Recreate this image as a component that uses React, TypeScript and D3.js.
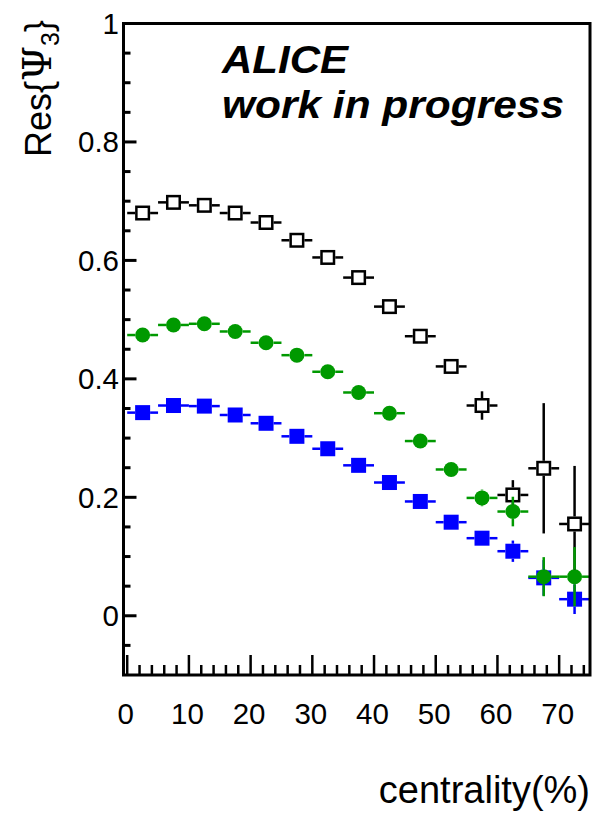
import React from "react";
import * as d3 from "d3";

// Centrality bin centres (%), each bin is 5% wide
const centrality = [2.5, 7.5, 12.5, 17.5, 22.5, 27.5, 32.5, 37.5, 42.5, 47.5, 52.5, 57.5, 62.5, 67.5, 72.5];
const binHalfWidth = 2.5;

// Event-plane resolution Res{Psi_3} for the three detectors
const resOpen = [0.680, 0.698, 0.693, 0.680, 0.664, 0.634, 0.605, 0.571, 0.522, 0.472, 0.421, 0.355, 0.204, 0.249, 0.155];
const errOpen = [0.004, 0.004, 0.004, 0.004, 0.004, 0.004, 0.005, 0.005, 0.006, 0.007, 0.008, 0.024, 0.025, 0.11, 0.098];

const resGreen = [0.474, 0.491, 0.493, 0.480, 0.461, 0.440, 0.412, 0.377, 0.342, 0.295, 0.247, 0.199, 0.176, 0.066, 0.066];
const errGreen = [0.003, 0.003, 0.003, 0.003, 0.003, 0.003, 0.004, 0.004, 0.005, 0.006, 0.008, 0.014, 0.025, 0.033, 0.05];

const resBlue = [0.343, 0.355, 0.354, 0.339, 0.325, 0.303, 0.282, 0.254, 0.225, 0.193, 0.158, 0.131, 0.109, 0.064, 0.028];
const errBlue = [0.003, 0.003, 0.003, 0.003, 0.003, 0.003, 0.003, 0.004, 0.004, 0.005, 0.006, 0.008, 0.018, 0.03, 0.025];

const xMajorTicks = [0, 10, 20, 30, 40, 50, 60, 70];
const yMajorTicks = [0, 0.2, 0.4, 0.6, 0.8, 1];

const W = 601;
const H = 820;
const left = 123.5;
const right = 590;
const top = 23.5;
const bottom = 675;

const x = d3.scaleLinear().domain([-0.6, 75]).range([left, right]);
const y = d3.scaleLinear().domain([-0.1, 1]).range([bottom, top]);

const FONT = "'Liberation Sans', Arial, Helvetica, sans-serif";
const HALF = 7.5; // marker half size in px
const LW = 2.5;

type SeriesProps = {
  values: number[];
  errors: number[];
  color: string;
  marker: "openSquare" | "square" | "circle";
};

function Series({ values, errors, color, marker }: SeriesProps) {
  return (
    <g>
      {centrality.map((c, i) => {
        const cx = x(c);
        const cy = y(values[i]);
        const x0 = x(c - binHalfWidth);
        const x1 = x(c + binHalfWidth);
        const yHi = y(values[i] + errors[i]);
        const yLo = y(values[i] - errors[i]);
        const segs: [number, number, number, number][] = [];
        if (x0 < cx - HALF) segs.push([x0, cy, cx - HALF, cy]);
        if (x1 > cx + HALF) segs.push([cx + HALF, cy, x1, cy]);
        if (yHi < cy - HALF) segs.push([cx, yHi, cx, cy - HALF]);
        if (yLo > cy + HALF) segs.push([cx, cy + HALF, cx, yLo]);
        return (
          <g key={i}>
            {segs.map((s, j) => (
              <line key={j} x1={s[0]} y1={s[1]} x2={s[2]} y2={s[3]} stroke={color} strokeWidth={LW} />
            ))}
            {marker === "circle" && <circle cx={cx} cy={cy} r={HALF} fill={color} />}
            {marker === "square" && (
              <rect x={cx - HALF} y={cy - HALF} width={2 * HALF} height={2 * HALF} fill={color} />
            )}
            {marker === "openSquare" && (
              <rect
                x={cx - HALF + 1.25}
                y={cy - HALF + 1.25}
                width={2 * HALF - 2.5}
                height={2 * HALF - 2.5}
                fill="white"
                stroke={color}
                strokeWidth={LW}
              />
            )}
          </g>
        );
      })}
    </g>
  );
}

export default function App() {
  const xMinor = d3.range(0, 75, 2).filter((v) => v % 10 !== 0);
  const yMinor = d3.range(-0.05, 1, 0.05).filter(
    (v) => !yMajorTicks.some((m) => Math.abs(m - v) < 1e-6)
  );

  return (
    <svg
      width={W}
      height={H}
      style={{ position: "absolute", left: 0, top: 0, background: "white" }}
    >
      <rect x={0} y={0} width={W} height={H} fill="white" />

      {/* data */}
      <Series values={resOpen} errors={errOpen} color="#000000" marker="openSquare" />
      <Series values={resBlue} errors={errBlue} color="#0000ff" marker="square" />
      <Series values={resGreen} errors={errGreen} color="#009900" marker="circle" />

      {/* frame */}
      <rect x={left} y={top} width={right - left} height={bottom - top} fill="none" stroke="black" strokeWidth={3} />

      {/* y ticks */}
      {yMajorTicks.map((v) => (
        <g key={`ym${v}`}>
          <line x1={left} x2={left + 13} y1={y(v)} y2={y(v)} stroke="black" strokeWidth={3} />
          <text
            x={119}
            y={y(v) + 10.5}
            textAnchor="end"
            fontFamily={FONT}
            fontSize={29.5}
          >
            {v === 0 || v === 1 ? String(v) : v.toFixed(1)}
          </text>
        </g>
      ))}
      {yMinor.map((v) => (
        <line key={`yn${v}`} x1={left} x2={left + 7} y1={y(v)} y2={y(v)} stroke="black" strokeWidth={3} />
      ))}

      {/* x ticks */}
      {xMajorTicks.map((v) => (
        <g key={`xm${v}`}>
          <line x1={x(v)} x2={x(v)} y1={bottom} y2={bottom - 20} stroke="black" strokeWidth={2.5} />
          <text x={x(v) - 1.5} y={724} textAnchor="middle" fontFamily={FONT} fontSize={29.5}>
            {v}
          </text>
        </g>
      ))}
      {xMinor.map((v) => (
        <line key={`xn${v}`} x1={x(v)} x2={x(v)} y1={bottom} y2={bottom - 10} stroke="black" strokeWidth={2.5} />
      ))}

      {/* axis titles */}
      <text x={590} y={803} textAnchor="end" fontFamily={FONT} fontSize={38}>
        centrality(%)
      </text>
      <text
        transform="translate(51,20) rotate(-90)"
        textAnchor="end"
        fontFamily={FONT}
        fontSize={36}
      >
        Res{"{"}
        <tspan fontSize={40} fontFamily="'DejaVu Serif', serif">Ψ</tspan>
        <tspan fontSize={25} dy={8}>3</tspan>
        <tspan dy={-8}>{"}"}</tspan>
      </text>

      {/* experiment label */}
      <text
        x={222}
        y={73}
        fontFamily={FONT}
        fontSize={39}
        fontWeight="bold"
        fontStyle="italic"
        textLength={126}
        lengthAdjust="spacingAndGlyphs"
      >
        ALICE
      </text>
      <text
        x={222}
        y={118}
        fontFamily={FONT}
        fontSize={39}
        fontWeight="bold"
        fontStyle="italic"
        textLength={342}
        lengthAdjust="spacingAndGlyphs"
      >
        work in progress
      </text>
    </svg>
  );
}
